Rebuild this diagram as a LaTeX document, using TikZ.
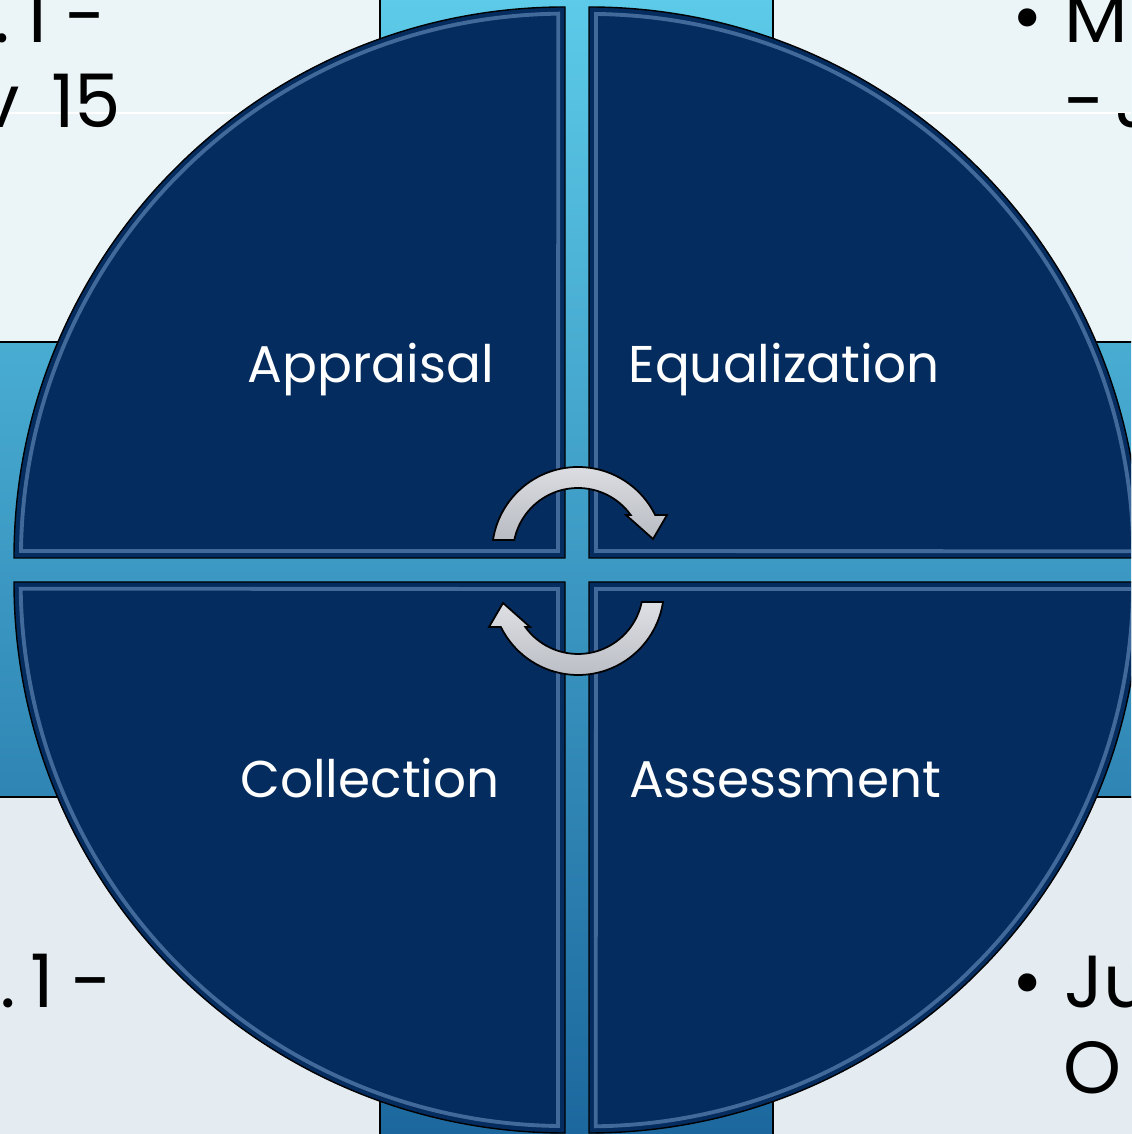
\documentclass[tikz,border=0pt]{standalone}
\usepackage{fontspec}
\setmainfont{Poppins}
\definecolor{navy}{RGB}{5,44,94}
\definecolor{bandtop}{RGB}{92,202,232}
\definecolor{bandmid}{RGB}{58,160,202}
\definecolor{bandbot}{RGB}{28,104,158}
\definecolor{paneltop}{RGB}{235,245,247}
\definecolor{panelbot}{RGB}{228,236,242}
\definecolor{bevelblue}{RGB}{140,180,225}
\definecolor{arrowlight}{RGB}{222,224,228}
\definecolor{arrowdark}{RGB}{184,187,194}
\tikzset{
  panel/.style={draw=black, line width=0.4pt},
  quad/.style={fill=navy, draw=black, line width=0.4pt},
  bevel/.style={draw=bevelblue, line width=1.1pt, opacity=0.45},
  phase/.style={text=white, font=\fontsize{14.7}{18}\selectfont, anchor=base, inner sep=0pt},
  note/.style={text=black, font=\fontsize{21}{25}\selectfont, inner sep=0pt},
  cycarrow/.style={draw=black, line width=0.5pt, top color=arrowlight, bottom color=arrowdark},
}
\begin{document}
\begin{tikzpicture}[x=0.1mm, y=0.1mm]
\useasboundingbox (0,0) rectangle (1131,1134);
\clip (0,0) rectangle (1131,1134);
% backdrop and corner panels
\shade[top color=bandtop, middle color=bandmid, bottom color=bandbot] (0,0) rectangle (1131,1134);
\draw[panel, fill=paneltop] (-10,792) rectangle (380,1144);
\draw[panel, fill=paneltop] (773,792) rectangle (1141,1144);
\draw[panel, fill=panelbot] (-10,-10) rectangle (380,337);
\draw[panel, fill=panelbot] (773,-10) rectangle (1141,337);
\draw[white, line width=0.3pt] (0,1021) -- (380,1021);
\draw[white, line width=0.3pt] (773,1021) -- (1131,1021);
% panel texts
\node[note, anchor=base east] (tl1) at (107,1091) {.\kern4pt1\kern5pt-};
\node[note, anchor=base east] (tl2) at (122,1006) {v\kern9pt15};
\node[note, anchor=base west] (tr1) at (1012,1091) {•\kern6pt M};
\node[note, anchor=base west] (tr2) at (1064,1006) {-\kern3pt J};
\node[note, anchor=base east] (bl1) at (113,126) {.\kern4pt1\kern5pt-};
\node[note, anchor=base west] (br1) at (1012,126) {•\kern6pt Ju};
\node[note, anchor=base west] (br2) at (1063,41) {O};
% quadrants
\draw[quad] (565,576) -- (14,576) arc[start angle=180, end angle=90, radius=551] -- cycle;
\draw[quad] (589,576) -- (589,1127) arc[start angle=90, end angle=0, radius=551] -- cycle;
\draw[quad] (565,552) -- (565,1) arc[start angle=270, end angle=180, radius=551] -- cycle;
\draw[quad] (589,552) -- (1140,552) arc[start angle=0, end angle=-90, radius=551] -- cycle;
\draw[bevel] (558,583) -- (21,583) arc[start angle=179.3, end angle=90.7, radius=544] -- cycle;
\draw[bevel] (596,583) -- (596,1120) arc[start angle=89.3, end angle=0.7, radius=544] -- cycle;
\draw[bevel] (558,545) -- (558,8) arc[start angle=269.3, end angle=180.7, radius=544] -- cycle;
\draw[bevel] (596,545) -- (1133,545) arc[start angle=-0.7, end angle=-89.3, radius=544] -- cycle;
% phase labels
\node[phase] (appraisal) at (371,751) {Appraisal};
\node[phase] (equalization) at (784,751) {Equalization};
\node[phase] (collection) at (370,336) {Collection};
\node[phase] (assessment) at (785,336) {Assessment};
% cycle arrows
\draw[cycarrow] (493,594) arc[start angle=171.3, end angle=26.2, radius=86] -- (667,619) -- (653,595) -- (626,619) -- (630.7,619) arc[start angle=35.8, end angle=168.5, radius=65] -- cycle;
\draw[cycarrow, rotate around={180:(578,563)}] (493,594) arc[start angle=171.3, end angle=26.2, radius=86] -- (667,619) -- (653,595) -- (626,619) -- (630.7,619) arc[start angle=35.8, end angle=168.5, radius=65] -- cycle;
\end{tikzpicture}
\end{document}
